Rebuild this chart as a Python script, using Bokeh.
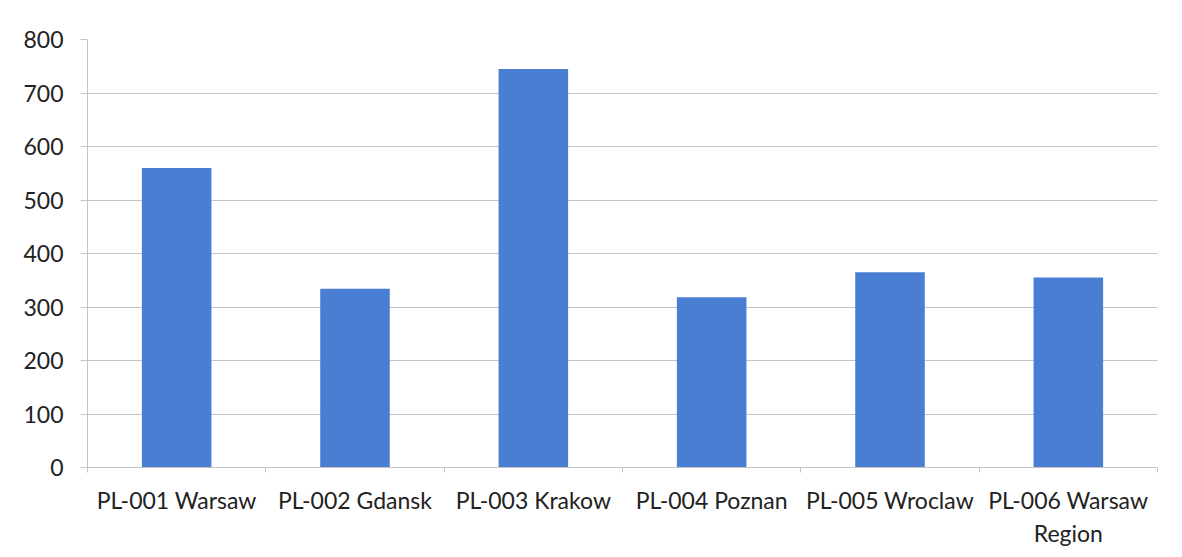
from bokeh.plotting import figure
from bokeh.models import Range1d, LinearAxis, FixedTicker
from bokeh.embed import file_html
from bokeh.resources import INLINE

categories = ["PL-001 Warsaw", "PL-002 Gdansk", "PL-003 Krakow",
              "PL-004 Poznan", "PL-005 Wroclaw", "PL-006 Warsaw\nRegion"]
values = [560, 334, 745, 318, 365, 355]
y_ticks = [0, 100, 200, 300, 400, 500, 600, 700, 800]

FONT = "Lato"
BAR = "#4A7ED3"
GRID = "#c4c4c4"
TEXT = "#222222"

n = len(categories)
centers = [i + 0.5 for i in range(n)]
edges = list(range(n + 1))

p = figure(width=1174, height=550, x_range=Range1d(0, n),
           y_range=Range1d(0, 800), output_backend="svg", toolbar_location=None,
           x_axis_location=None, y_axis_location=None,
           min_border_left=87, min_border_right=17, min_border_top=39, min_border_bottom=83)
p.outline_line_color = None
p.background_fill_color = "white"
p.border_fill_color = "white"

p.vbar(x=centers, top=values, width=0.39, fill_color=BAR, line_color=None)

# y axis
yax = LinearAxis(ticker=FixedTicker(ticks=y_ticks))
yax.axis_line_color = GRID
yax.major_tick_line_color = GRID
yax.major_tick_out = 7
yax.major_tick_in = 0
yax.minor_tick_line_color = None
yax.major_label_standoff = 17
yax.major_label_text_font = FONT
yax.major_label_text_font_size = "23px"
yax.major_label_text_color = TEXT
p.add_layout(yax, "left")

p.ygrid.ticker = FixedTicker(ticks=y_ticks)
p.ygrid.grid_line_color = GRID
p.xgrid.grid_line_color = None

# boundary ticks on the x axis
edge_ax = LinearAxis(ticker=FixedTicker(ticks=edges))
edge_ax.axis_line_color = GRID
edge_ax.major_tick_line_color = GRID
edge_ax.major_tick_out = 5
edge_ax.major_tick_in = 0
edge_ax.minor_tick_line_color = None
edge_ax.major_label_text_font_size = "1px"
edge_ax.major_label_text_color = None
edge_ax.major_label_standoff = 0
p.add_layout(edge_ax, "below")

# category labels
xax = LinearAxis(ticker=FixedTicker(ticks=centers),
                 major_label_overrides={c: lab for c, lab in zip(centers, categories)})
xax.axis_line_color = None
xax.major_tick_line_color = None
xax.minor_tick_line_color = None
xax.major_tick_out = 0
xax.major_label_standoff = 13
xax.major_label_text_font = FONT
xax.major_label_text_font_size = "23px"
xax.major_label_text_color = TEXT
p.add_layout(xax, "below")

open("out.html", "w").write(file_html(p, INLINE))
